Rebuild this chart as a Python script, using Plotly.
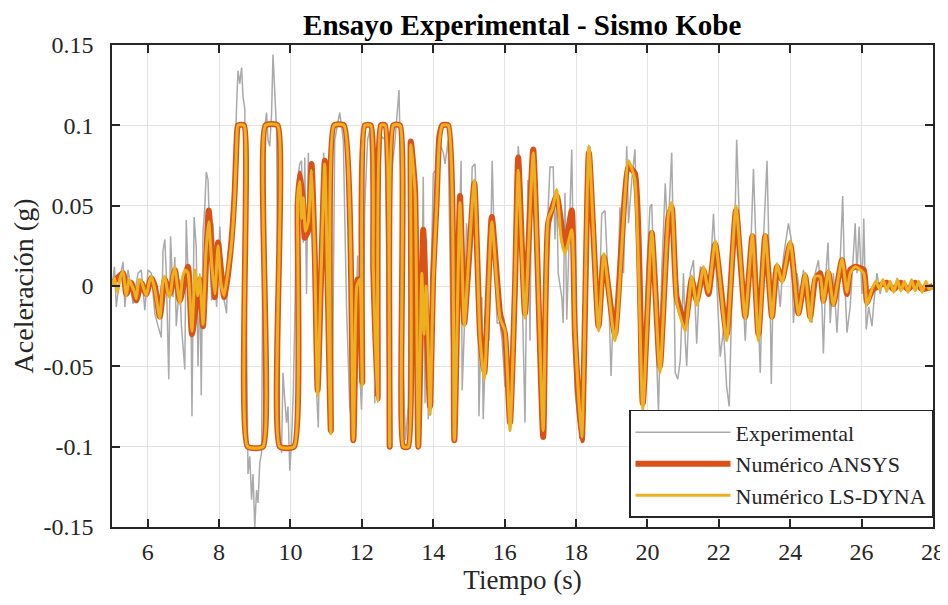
import plotly.graph_objects as go

# ---------------- data ----------------
exp_t = [5.00, 5.07, 5.12, 5.21, 5.31, 5.36, 5.45, 5.59, 5.73, 5.82, 5.92, 6.01, 6.10, 6.20, 6.29, 6.38,
         6.43, 6.48, 6.52, 6.59, 6.64, 6.71, 6.76, 6.80, 6.90, 6.94, 7.04, 7.08, 7.13, 7.21, 7.24, 7.30,
         7.36, 7.41, 7.46, 7.50, 7.55, 7.60, 7.64, 7.69, 7.74, 7.79, 7.83, 7.88, 7.93, 8.02, 8.07, 8.11,
         8.21, 8.25, 8.33, 8.39, 8.44, 8.49, 8.53, 8.58, 8.63, 8.67, 8.72, 8.77, 8.81, 8.86, 8.91, 8.95,
         9.00, 9.05, 9.09, 9.14, 9.19, 9.23, 9.28, 9.33, 9.37, 9.42, 9.47, 9.51, 9.56, 9.61, 9.65, 9.70,
         9.75, 9.79, 9.84, 9.89, 9.93, 9.98, 10.03, 10.08, 10.12, 10.17, 10.22, 10.26, 10.31, 10.36, 10.40,
         10.45, 10.50, 10.54, 10.59, 10.64, 10.68, 10.73, 10.78, 10.82, 10.87, 10.93, 11.01, 11.06, 11.10,
         11.17, 11.24, 11.38, 11.48, 11.57, 11.66, 11.76, 11.82, 11.88, 11.94, 11.99, 12.04, 12.08, 12.16,
         12.22, 12.32, 12.36, 12.41, 12.46, 12.55, 12.65, 12.70, 12.74, 12.83, 12.93, 13.04, 13.09, 13.16,
         13.22, 13.30, 13.37, 13.44, 13.53, 13.58, 13.65, 13.72, 13.77, 13.81, 13.86, 13.94, 14.00, 14.07,
         14.14, 14.28, 14.33, 14.42, 14.49, 14.56, 14.63, 14.70, 14.78, 14.81, 14.87, 14.93, 15.03, 15.09,
         15.17, 15.24, 15.28, 15.36, 15.40, 15.50, 15.56, 15.65, 15.73, 15.79, 15.87, 15.93, 16.01, 16.08,
         16.15, 16.20, 16.29, 16.38, 16.43, 16.50, 16.57, 16.65, 16.71, 16.76, 16.85, 16.94, 17.04, 17.13,
         17.22, 17.27, 17.36, 17.41, 17.46, 17.50, 17.60, 17.64, 17.69, 17.74, 17.83, 17.88, 17.93, 17.97,
         18.02, 18.11, 18.21, 18.30, 18.39, 18.49, 18.58, 18.63, 18.72, 18.81, 18.91, 18.98, 19.05, 19.14,
         19.23, 19.33, 19.42, 19.47, 19.56, 19.65, 19.75, 19.79, 19.89, 19.98, 20.07, 20.12, 20.21, 20.31,
         20.40, 20.50, 20.57, 20.64, 20.68, 20.73, 20.78, 20.85, 20.92, 21.01, 21.06, 21.10, 21.20, 21.29,
         21.38, 21.48, 21.57, 21.66, 21.76, 21.85, 21.94, 22.04, 22.13, 22.22, 22.29, 22.36, 22.46, 22.50,
         22.57, 22.64, 22.74, 22.83, 22.91, 22.97, 23.07, 23.16, 23.25, 23.35, 23.44, 23.47, 23.53, 23.63,
         23.72, 23.81, 23.95, 24.03, 24.09, 24.19, 24.28, 24.37, 24.47, 24.51, 24.61, 24.70, 24.79, 24.89,
         24.93, 25.00, 25.06, 25.12, 25.21, 25.31, 25.35, 25.47, 25.52, 25.59, 25.68, 25.78, 25.82, 25.87,
         25.93, 26.01, 26.06, 26.13, 26.20, 26.29, 26.34, 26.43, 26.52, 26.60, 26.70, 26.80, 26.90, 27.00,
         27.10, 27.20, 27.30, 27.40, 27.50, 27.60, 27.70, 27.80, 27.90, 28.00]
exp_a = [0.000, 0.012, -0.013, 0.004, 0.015, -0.013, 0.010, -0.011, 0.008, 0.010, -0.015, 0.010, 0.008, -0.017, -0.025, -0.032,
         0.022, 0.029, 0.008, -0.058, 0.031, -0.007, 0.018, -0.025, 0.004, -0.023, -0.052, 0.041, 0.008, -0.009, -0.081, 0.043,
         0.024, -0.050, 0.008, -0.068, 0.033, 0.049, 0.071, 0.066, 0.029, -0.009, 0.039, 0.016, -0.013, 0.037, 0.008, -0.005,
         -0.017, 0.020, 0.029, 0.054, 0.072, 0.112, 0.134, 0.126, 0.136, 0.118, 0.110, -0.034, -0.117, -0.106, -0.133, -0.117,
         -0.150, -0.127, -0.135, -0.110, -0.104, 0.029, 0.099, 0.108, 0.091, 0.087, 0.107, 0.144, 0.122, 0.097, -0.013, -0.092,
         -0.104, -0.054, -0.071, -0.085, -0.075, -0.115, -0.096, -0.065, -0.023, 0.049, 0.070, 0.076, 0.078, 0.027, 0.080,
         -0.005, 0.083, 0.039, 0.060, 0.029, -0.013, -0.065, -0.088, -0.034, 0.049, 0.083, 0.029, -0.054, -0.092,
         -0.075, 0.091, 0.108, 0.091, -0.013, -0.075, -0.092, -0.034, 0.019, -0.054, -0.077, -0.034, 0.049, 0.091,
         0.097, 0.029, -0.073, -0.034, 0.049, 0.093, 0.091, 0.020, -0.096, 0.070, 0.091, 0.122, 0.070, -0.054,
         -0.096, -0.075, 0.087, 0.060, -0.034, -0.096, -0.054, 0.068, -0.073, 0.029, -0.083, 0.008, 0.070, 0.072,
         0.091, 0.083, 0.076, 0.091, -0.013, -0.075, -0.085, 0.008, 0.078, -0.065, -0.027, 0.039, 0.008, 0.074,
         0.076, 0.029, -0.081, -0.007, -0.083, -0.013, -0.034, 0.078, 0.008, -0.023, -0.023, -0.034, -0.063, -0.034,
         -0.075, -0.034, 0.008, 0.087, 0.074, -0.013, -0.085, 0.066, -0.034, 0.085, 0.078, -0.034, -0.090, -0.034,
         0.049, 0.074, 0.074, 0.029, 0.060, 0.008, -0.007, -0.023, 0.058, -0.021, 0.039, 0.085, 0.008, -0.065,
         -0.075, -0.092, -0.054, 0.070, 0.087, 0.049, -0.013, -0.027, 0.045, 0.047, -0.002, -0.056, -0.013, -0.025,
         0.049, 0.008, 0.087, 0.039, 0.066, 0.085, -0.013, -0.067, -0.065, 0.008, 0.049, 0.051, -0.013, -0.079,
         0.008, 0.064, 0.029, 0.064, 0.083, 0.024, -0.054, -0.058, -0.046, 0.008, -0.034, -0.050, 0.008, 0.016,
         -0.036, 0.012, 0.010, -0.002, 0.008, 0.045, 0.004, -0.044, -0.027, -0.063, -0.075, -0.013, 0.049, 0.091,
         0.045, 0.008, -0.034, 0.008, 0.033, 0.073, 0.008, -0.054, 0.029, 0.078, -0.013, -0.061, 0.008, 0.010,
         -0.013, 0.018, 0.039, 0.029, -0.023, 0.008, -0.007, 0.010, -0.009, -0.013, -0.023, 0.008, 0.016, -0.013,
         -0.042, 0.008, 0.027, -0.023, 0.008, -0.029, -0.013, 0.056, 0.008, -0.029, -0.013, 0.024, 0.039, 0.008,
         0.037, -0.005, 0.042, -0.027, -0.013, -0.025, -0.011, 0.008, -0.005, 0.004, -0.004, 0.003, -0.003, 0.005,
         -0.002, 0.003, -0.003, 0.002, -0.003, 0.003, -0.002, 0.003, -0.003, 0.000]

ansys_t = [5.00, 5.07, 5.31, 5.40, 5.54, 5.68, 5.82, 5.96, 6.10, 6.20, 6.34, 6.48, 6.62, 6.76, 6.90, 7.13,
           7.24, 7.46, 7.55, 7.71, 7.88, 7.97, 8.14, 8.23, 8.35, 8.44, 8.49, 8.53, 8.70, 8.80, 9.23, 9.30,
           9.64, 9.70, 10.10, 10.20, 10.26, 10.36, 10.40, 10.50, 10.59, 10.68, 10.76, 10.85, 10.96, 11.13,
           11.22, 11.50, 11.76, 11.88, 11.94, 12.01, 12.08, 12.25, 12.32, 12.44, 12.53, 12.65, 12.78, 12.88,
           13.07, 13.16, 13.30, 13.37, 13.49, 13.58, 13.72, 13.81, 13.91, 14.00, 14.09, 14.17, 14.25, 14.42,
           14.59, 14.75, 14.87, 14.98, 15.15, 15.31, 15.43, 15.64, 15.87, 16.01, 16.15, 16.29, 16.38, 16.57,
           16.80, 17.08, 17.22, 17.46, 17.69, 17.88, 17.97, 18.16, 18.36, 18.63, 18.78, 19.09, 19.47, 19.65,
           19.87, 20.12, 20.35, 20.59, 20.68, 20.82, 21.06, 21.24, 21.38, 21.57, 21.71, 21.90, 22.22, 22.48,
           22.74, 22.94, 23.11, 23.30, 23.49, 23.63, 23.77, 24.00, 24.23, 24.42, 24.56, 24.70, 24.84, 24.93,
           25.07, 25.21, 25.45, 25.59, 25.68, 25.82, 26.06, 26.15, 26.29, 26.48, 26.70, 26.90, 27.10, 27.30,
           27.50, 27.70, 28.00]
ansys_a = [0.000, 0.003, 0.008, -0.005, 0.002, -0.009, 0.002, -0.005, 0.005, 0.000, -0.019, 0.004, -0.005, 0.010, -0.009, 0.012,
           -0.030, 0.004, -0.025, 0.047, -0.007, 0.027, -0.007, 0.004, 0.029, 0.060, 0.090, 0.100, 0.100, -0.100, -0.100, 0.100,
           0.100, -0.100, -0.100, 0.050, 0.070, 0.050, 0.030, 0.035, 0.076, 0.020, -0.065, 0.000, 0.078, -0.090,
           0.100, 0.100, -0.096, 0.004, 0.000, -0.060, 0.100, 0.100, 0.010, -0.070, 0.100, 0.100, -0.100, 0.100,
           0.100, -0.100, -0.100, 0.090, 0.060, -0.100, 0.035, -0.023, -0.075, 0.008, 0.050, 0.093, 0.100, 0.100,
           -0.096, 0.056, -0.023, 0.010, 0.064, -0.030, -0.054, 0.043, -0.017, -0.030, -0.085, 0.000, 0.080, -0.017,
           0.085, -0.094, 0.039, 0.056, 0.024, 0.047, -0.030, -0.096, 0.083, -0.025, 0.018, -0.030, 0.074, 0.070,
           -0.073, 0.033, -0.050, 0.043, 0.049, -0.007, -0.023, 0.004, -0.009, 0.010, -0.005, 0.026, -0.030, 0.047,
           -0.019, 0.031, -0.030, 0.031, -0.019, 0.012, 0.004, 0.026, -0.017, 0.006, -0.019, 0.004, 0.008, -0.009,
           0.008, -0.011, 0.016, -0.005, 0.010, 0.012, 0.010, -0.010, -0.003, 0.000, 0.002, -0.002, 0.002, -0.002,
           0.002, -0.002, 0.000]

dyna_t = [5.00, 5.07, 5.15, 5.24, 5.31, 5.40, 5.48, 5.54, 5.62, 5.68, 5.76, 5.82, 5.96, 6.04, 6.10, 6.20,
          6.34, 6.42, 6.48, 6.56, 6.62, 6.70, 6.76, 6.84, 6.90, 6.98, 7.06, 7.13, 7.24, 7.33, 7.40, 7.46,
          7.55, 7.63, 7.71, 7.80, 7.88, 7.97, 8.05, 8.14, 8.23, 8.35, 8.44, 8.49, 8.53, 8.70, 8.80, 9.23,
          9.30, 9.64, 9.70, 10.10, 10.20, 10.26, 10.31, 10.36, 10.42, 10.50, 10.59, 10.68, 10.76, 10.85,
          10.96, 11.13, 11.22, 11.50, 11.76, 11.86, 11.94, 12.01, 12.08, 12.25, 12.32, 12.44, 12.53, 12.65,
          12.78, 12.88, 13.07, 13.16, 13.30, 13.37, 13.49, 13.58, 13.68, 13.74, 13.80, 13.86, 13.91, 14.00,
          14.09, 14.17, 14.25, 14.42, 14.59, 14.75, 14.87, 14.98, 15.15, 15.31, 15.43, 15.64, 15.87, 16.01,
          16.15, 16.29, 16.38, 16.57, 16.80, 17.08, 17.22, 17.34, 17.46, 17.58, 17.69, 17.88, 17.97, 18.16,
          18.36, 18.63, 18.78, 19.09, 19.47, 19.65, 19.87, 20.12, 20.35, 20.59, 20.68, 20.82, 21.06, 21.24,
          21.38, 21.57, 21.71, 21.90, 22.22, 22.48, 22.74, 22.94, 23.11, 23.30, 23.49, 23.63, 23.77, 24.00,
          24.23, 24.42, 24.56, 24.70, 24.84, 24.93, 25.07, 25.21, 25.45, 25.59, 25.68, 25.82, 26.06, 26.15,
          26.29, 26.40, 26.50, 26.60, 26.70, 26.80, 26.90, 27.00, 27.10, 27.20, 27.30, 27.40, 27.50, 27.60,
          27.70, 27.80, 27.90, 28.00]
dyna_a = [0.000, 0.005, -0.004, 0.006, 0.009, -0.006, 0.004, 0.001, -0.003, -0.008, 0.004, 0.003, -0.006, 0.002, 0.006, -0.002,
          -0.020, 0.002, 0.006, -0.004, -0.007, 0.006, 0.012, -0.002, -0.011, 0.006, 0.010, 0.008, -0.028, 0.010, -0.006, 0.006,
          -0.024, 0.020, 0.040, 0.012, -0.005, 0.025, 0.002, -0.006, 0.006, 0.027, 0.058, 0.088, 0.100, 0.100, -0.100, -0.100,
          0.100, 0.100, -0.100, -0.100, 0.055, 0.065, 0.042, 0.055, 0.034, 0.040, 0.072, 0.018, -0.068, 0.002,
          0.076, -0.092, 0.100, 0.100, -0.096, 0.000, 0.004, -0.062, 0.100, 0.100, 0.012, -0.072, 0.100, 0.100,
          -0.100, 0.100, 0.100, -0.100, -0.100, 0.088, 0.058, -0.100, 0.008, -0.030, 0.000, -0.040, -0.080, 0.004,
          0.048, 0.090, 0.100, 0.100, -0.096, 0.052, -0.025, 0.012, 0.066, -0.032, -0.058, 0.040, -0.020, -0.028,
          -0.090, 0.002, 0.072, -0.020, 0.083, -0.090, 0.042, 0.048, 0.060, 0.030, 0.020, 0.035, -0.028, -0.094,
          0.087, -0.028, 0.020, -0.034, 0.078, 0.066, -0.077, 0.034, -0.054, 0.045, 0.052, -0.010, -0.028, 0.006,
          -0.012, 0.012, -0.004, 0.028, -0.034, 0.050, -0.020, 0.032, -0.034, 0.032, -0.020, 0.014, 0.002, 0.028,
          -0.018, 0.008, -0.022, 0.006, 0.006, -0.010, 0.010, -0.012, 0.017, -0.004, 0.008, 0.012, 0.008, -0.012,
          -0.002, 0.003, -0.002, 0.004, -0.003, 0.003, -0.004, 0.004, -0.003, 0.003, -0.004, 0.004, -0.003, 0.003,
          -0.004, 0.003, -0.002, 0.000]

x_ticks = [6, 8, 10, 12, 14, 16, 18, 20, 22, 24, 26, 28]
y_ticks = [-0.15, -0.1, -0.05, 0, 0.05, 0.1, 0.15]
y_labels = ["-0.15", "-0.1", "-0.05", "0", "0.05", "0.1", "0.15"]

FONT = "Liberation Serif"

fig = go.Figure()
fig.add_trace(go.Scatter(x=exp_t, y=exp_a, mode="lines", name="Experimental",
                         line=dict(color="#AAAAAA", width=1.5)))
fig.add_trace(go.Scatter(x=ansys_t, y=ansys_a, mode="lines", name="Numérico ANSYS",
                         line=dict(color="#D95319", width=6, shape="spline", smoothing=0.5)))
fig.add_trace(go.Scatter(x=dyna_t, y=dyna_a, mode="lines", name="Numérico LS-DYNA",
                         line=dict(color="#EDB120", width=3, shape="spline", smoothing=0.5)))

axis_common = dict(showline=True, linecolor="#262626", linewidth=1.5, mirror="allticks",
                   ticks="inside", ticklen=8, tickwidth=1.5, tickcolor="#262626",
                   showgrid=True, gridcolor="#E3E3E3", gridwidth=1, zeroline=False,
                   automargin=False,
                   tickfont=dict(family=FONT, size=24, color="#262626"))

# the page body has an 8 px margin, so the figure is drawn 8 px right / down
fig.update_layout(
    width=940, height=597,
    margin=dict(l=104, r=15, t=37, b=78),
    paper_bgcolor="white", plot_bgcolor="white",
    title=dict(text="<b>Ensayo Experimental - Sismo Kobe</b>", x=0.547, xanchor="center",
               y=0.972, yanchor="middle", font=dict(family=FONT, size=29, color="black")),
    xaxis=dict(range=[5, 28], tickvals=x_ticks, ticklabelstandoff=2,
               title=dict(text="Tiempo (s)", font=dict(family=FONT, size=27, color="#262626"), standoff=0),
               **axis_common),
    yaxis=dict(range=[-0.15, 0.15], tickvals=y_ticks, ticktext=y_labels, ticklabelstandoff=12,
               title=dict(text="Aceleración (g)", font=dict(family=FONT, size=28, color="#262626"), standoff=2),
               **axis_common),
    legend=dict(x=1, xanchor="right", y=0.019, yanchor="bottom", bgcolor="white",
                bordercolor="#262626", borderwidth=1.5, itemwidth=95,
                font=dict(family=FONT, size=22, color="#262626"), tracegroupgap=0),
    showlegend=True,
)

fig.write_html("out.html")
